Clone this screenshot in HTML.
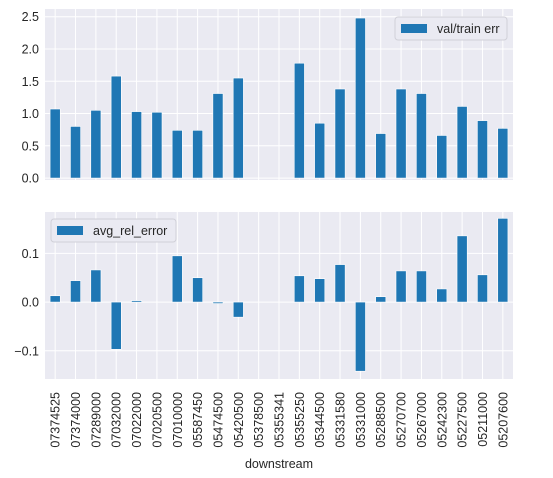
<!DOCTYPE html>
<html><head><meta charset="utf-8"><style>
body{margin:0;background:#fff}
svg{display:block;font-family:"Liberation Sans",Arial,sans-serif}
</style></head><body>
<svg id="c" width="553" height="478"></svg>
<script>
const categories=["07374525","07374000","07289000","07032000","07022000","07020500","07010000","05587450","05474500","05420500","05378500","05355341","05355250","05344500","05331580","05331000","05288500","05270700","05267000","05242300","05227500","05211000","05207600"];
const valTrainErr=[1.07,0.80,1.05,1.58,1.03,1.02,0.74,0.74,1.31,1.55,0,0,1.78,0.85,1.38,2.48,0.69,1.38,1.31,0.66,1.11,0.89,0.77];
const avgRelError=[0.013,0.044,0.066,-0.097,0.003,0,0.095,0.050,-0.003,-0.031,0,0,0.054,0.048,0.077,-0.142,0.011,0.064,0.064,0.027,0.136,0.056,0.172];
const topTicks=[0,0.5,1,1.5,2,2.5];
const botTicks=[-0.1,0,0.1];
const botTickLabels=["\u22120.1","0.0","0.1"];
const NS="http://www.w3.org/2000/svg";
const svg=document.getElementById('c');
function mk(t,a,p){const e=document.createElementNS(NS,t);for(const k in a)e.setAttribute(k,a[k]);(p||svg).appendChild(e);return e;}
const X0=45,X1=513;
const n=categories.length;
const xs=i=>X0+(i+0.5)*(X1-X0)/n;
const bw=(X1-X0)/n*0.5;
function panel(top,bot,vmin,vmax,vals,ticks,labels,name){
  const y=v=>bot-(v-vmin)/(vmax-vmin)*(bot-top);
  const g=mk('g',{});
  
  
  mk('rect',{x:X0,y:top,width:X1-X0,height:bot-top,fill:'#eaeaf2'},g);
  ticks.forEach((t,k)=>{
    const l=mk('line',{x1:X0,x2:X1,y1:y(t),y2:y(t),stroke:'#fff','stroke-width':1},g);
    
    
    const tx=mk('text',{x:X0-6,y:y(t)+4.5,'text-anchor':'end','font-size':12.5,fill:'#262626'},g);
    tx.textContent=labels?labels[k]:t.toFixed(1);
    
    
  });
  categories.forEach((c,i)=>{
    mk('line',{x1:xs(i),x2:xs(i),y1:top,y2:bot,stroke:'#fff','stroke-width':1},g);
  });
  vals.forEach((v,i)=>{
    const y0=y(0),y1=y(v);
    const r=mk('rect',{x:xs(i)-bw/2,y:Math.min(y0,y1),width:bw,height:Math.abs(y1-y0),fill:'#1f77b4',stroke:'#fff','stroke-width':0.6},g);
    
    
  });
  return y;
}
panel(9,180,-0.03,2.62,valTrainErr,topTicks,null,'val-train-err');
panel(212,379,-0.158,0.185,avgRelError,botTicks,botTickLabels,'avg-rel-error');
categories.forEach((c,i)=>{
  const t=mk('text',{transform:`translate(${xs(i)+4.5},392) rotate(-90)`,'text-anchor':'end','font-size':12.5,fill:'#262626'});
  t.textContent=c;
  
  
});
const xl=mk('text',{x:279,y:468,'text-anchor':'middle','font-size':12.5,fill:'#262626'});
xl.textContent='downstream';


function legend(x,y,w,label,name){
  const g=mk('g',{});
  
  
  mk('rect',{x:x,y:y,width:w,height:23,rx:3,fill:'#eaeaf2',stroke:'#d0d0d8','stroke-width':1},g);
  mk('rect',{x:x+6,y:y+7,width:26,height:9,fill:'#1f77b4'},g);
  const t=mk('text',{x:x+42,y:y+16,'font-size':12.5,fill:'#262626'},g);
  t.textContent=label;
}
legend(395,17,112,'val/train err','legend-val-train-err');
legend(51,219,125,'avg_rel_error','legend-avg-rel-error');
</script>
</body></html>
